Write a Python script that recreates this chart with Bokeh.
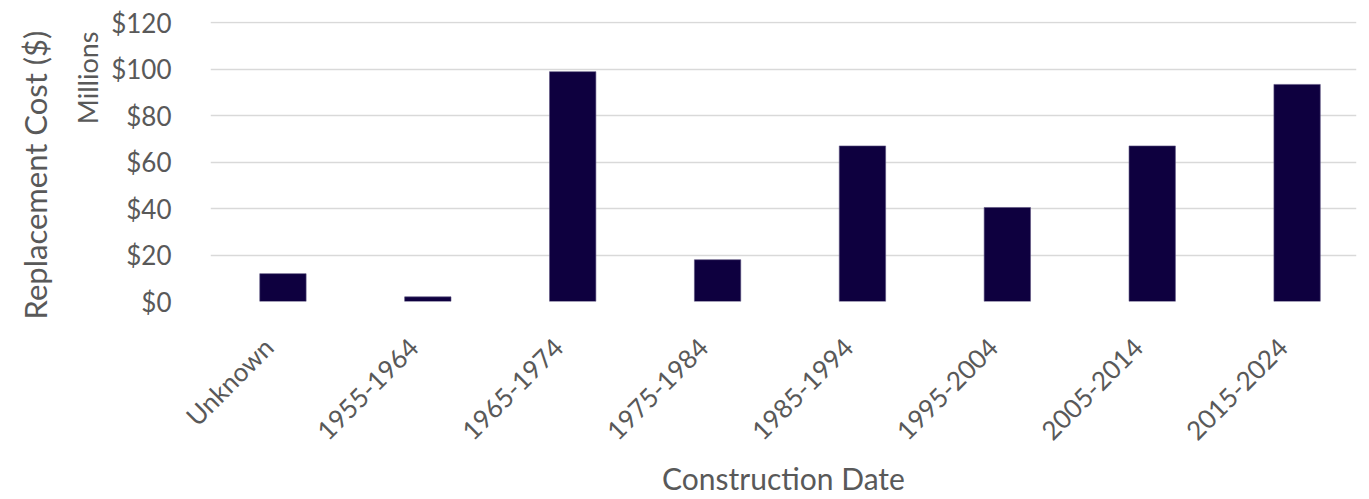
import math
from bokeh.plotting import figure
from bokeh.models import ColumnDataSource, Range1d, FixedTicker, Title, NumeralTickFormatter
from bokeh.embed import file_html
from bokeh.resources import INLINE

categories = ["Unknown", "1955-1964", "1965-1974", "1975-1984", "1985-1994", "1995-2004", "2005-2014", "2015-2024"]
values = [12, 2, 99, 18, 67, 40.5, 67, 93.5]
y_ticks = [0, 20, 40, 60, 80, 100, 120]

FONT = "Lato"
GREY = "#595959"

xs = list(range(len(categories)))
src = ColumnDataSource(dict(x=xs, top=values))

p = figure(width=1369, height=499, output_backend="svg", toolbar_location=None,
           x_range=Range1d(-0.5, len(categories) - 0.59), y_range=Range1d(0, 120.6),
           min_border_left=210, min_border_right=13, min_border_top=21, min_border_bottom=197)
p.outline_line_color = None
p.vbar(x="x", top="top", width=0.32, source=src, fill_color="#0E003F", line_color="#5a5080", line_width=0.6)

p.xgrid.grid_line_color = None
p.ygrid.grid_line_color = "#d9d9d9"
p.ygrid.grid_line_width = 1.5
p.yaxis.ticker = FixedTicker(ticks=y_ticks)
p.yaxis.formatter = NumeralTickFormatter(format="$0")
p.yaxis.axis_line_color = None
p.yaxis.major_tick_line_color = None
p.yaxis.minor_tick_line_color = None
p.yaxis.major_label_standoff = 33
p.yaxis.major_label_text_font = FONT
p.yaxis.major_label_text_font_size = "26px"
p.yaxis.major_label_text_color = GREY

# category labels are anchored slightly left of each bar centre, as in the original
label_pos = [i - 0.1 for i in xs]
p.xaxis.ticker = FixedTicker(ticks=label_pos)
p.xaxis.major_label_overrides = {t: c for t, c in zip(label_pos, categories)}
p.xaxis.major_label_orientation = math.pi / 4
p.xaxis.axis_line_color = None
p.xaxis.major_tick_line_color = None
p.xaxis.minor_tick_line_color = None
p.xaxis.major_label_standoff = 35
p.xaxis.major_label_text_font = FONT
p.xaxis.major_label_text_font_size = "26px"
p.xaxis.major_label_text_color = GREY
p.xaxis.axis_label = "Construction Date"
p.xaxis.axis_label_text_font = FONT
p.xaxis.axis_label_text_font_size = "30px"
p.xaxis.axis_label_text_font_style = "normal"
p.xaxis.axis_label_text_color = GREY
p.xaxis.axis_label_standoff = 0

p.add_layout(Title(text="Millions", align="right", text_font=FONT, text_font_size="27px",
                   text_font_style="normal", text_color=GREY, standoff=9, offset=10), "left")
p.add_layout(Title(text="Replacement Cost ($)", align="left", text_font=FONT,
                   text_font_size="31px", text_font_style="normal", text_color=GREY, standoff=22, offset=-18), "left")

open("out.html", "w").write(file_html(p, INLINE))
